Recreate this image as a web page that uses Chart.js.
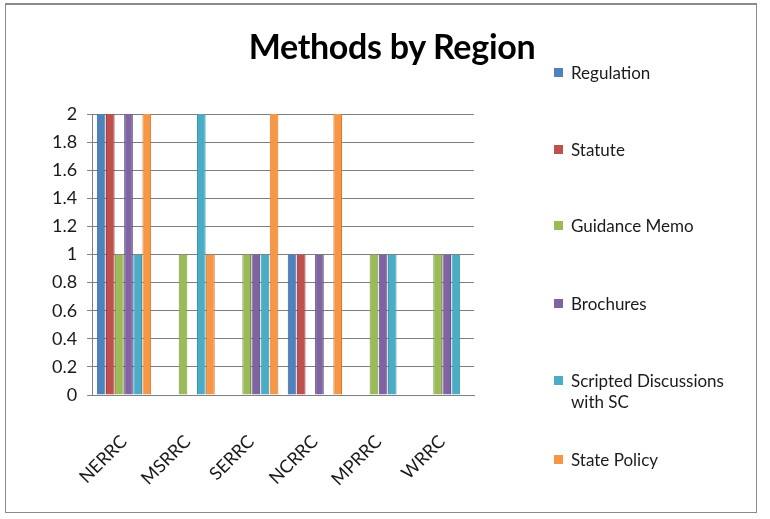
<!DOCTYPE html>
<html><head><meta charset="utf-8">
<script src="https://cdn.jsdelivr.net/npm/chart.js@4/dist/chart.umd.min.js"></script>
<style>
html,body{margin:0;padding:0;background:#fff;}
#wrap{position:relative;width:770px;height:519px;overflow:hidden;font-family:Lato,"Liberation Sans",sans-serif;}
#frame{position:absolute;left:5px;top:3px;width:752px;height:510px;border:1px solid #8a8a8a;border-top:2px solid #8a8a8a;box-sizing:border-box;}
#title{position:absolute;left:0;width:784px;top:25px;text-align:center;font-weight:bold;font-size:34px;color:#000;letter-spacing:-0.3px;}
#c{position:absolute;left:0;top:0;}
#legend{position:absolute;left:554px;top:0;}
.li{position:absolute;left:0;white-space:nowrap;font-size:17px;color:#1a1a1a;line-height:21px;}
.sw{position:absolute;left:0;top:6px;width:9px;height:9px;}
.tx{position:absolute;left:17px;top:0;}
</style></head>
<body>
<div id="wrap">
<div id="frame"></div>
<canvas id="c" width="770" height="519"></canvas>
<div id="title">Methods by Region</div>
<div id="legend"></div>
</div>
<script>
const categories = ["NERRC","MSRRC","SERRC","NCRRC","MPRRC","WRRC"];
const seriesNames = ["Regulation","Statute","Guidance Memo","Brochures","Scripted Discussions with SC","State Policy"];
const regulation = [2,0,0,1,0,0];
const statute    = [2,0,0,1,0,0];
const guidance   = [1,1,1,0,1,1];
const brochures  = [2,0,1,1,1,1];
const scripted   = [1,2,1,0,1,1];
const statePolicy= [2,1,2,2,0,0];
const yTicks = [0,0.2,0.4,0.6,0.8,1,1.2,1.4,1.6,1.8,2];
const colors = ["#4F81BD","#C0504D","#9BBB59","#8064A2","#4BACC6","#F79646"];
const dark   = ["#2f5f99","#9a3431","#7a9a3c","#5f4585","#2e8ea8","#d8782a"];

const values = [regulation,statute,guidance,brochures,scripted,statePolicy];

const datasets = seriesNames.map((n,i)=>({
  label:n, data:values[i], backgroundColor:colors[i], borderColor:dark[i], borderWidth:{left:1,right:1,top:0,bottom:0},
  categoryPercentage:0.86, barPercentage:0.95
}));

new Chart(document.getElementById('c'),{
  type:'bar',
  data:{labels:categories,datasets},
  options:{
    responsive:false, animation:false,
    layout:{padding:{left:42,right:296,top:114,bottom:0}},
    plugins:{legend:{display:false},title:{display:false},tooltip:{enabled:false}},
    scales:{
      x:{grid:{display:false,drawTicks:false},border:{display:true,color:'#808080'},
         afterFit:(s)=>{s.height=124;},
         ticks:{color:'#1a1a1a',font:{family:'Lato',size:18},maxRotation:45,minRotation:45,padding:36}},
      y:{min:0,max:2,afterBuildTicks:(s)=>{s.ticks=yTicks.map(v=>({value:v}));},
         grid:{color:'#7f7f7f',lineWidth:1,drawTicks:true,tickLength:5},
         border:{display:true,color:'#808080'},
         ticks:{color:'#1a1a1a',font:{family:'Lato',size:18},padding:10,
           callback:(v)=>String(Math.round(v*10)/10)}}
    }
  }
});

const lg = document.getElementById('legend');
const tops = [62,139,215,293,370,449];
seriesNames.map((n,i)=>{
  const d=document.createElement('div'); d.className='li'; d.style.top=tops[i]+'px';
  const sw=document.createElement('div'); sw.className='sw'; sw.style.background=colors[i];
  const t=document.createElement('div'); t.className='tx';
  t.innerHTML = n==="Scripted Discussions with SC" ? "Scripted Discussions<br>with SC" : n;
  d.appendChild(sw); d.appendChild(t); lg.appendChild(d);
});
</script>
</body></html>
